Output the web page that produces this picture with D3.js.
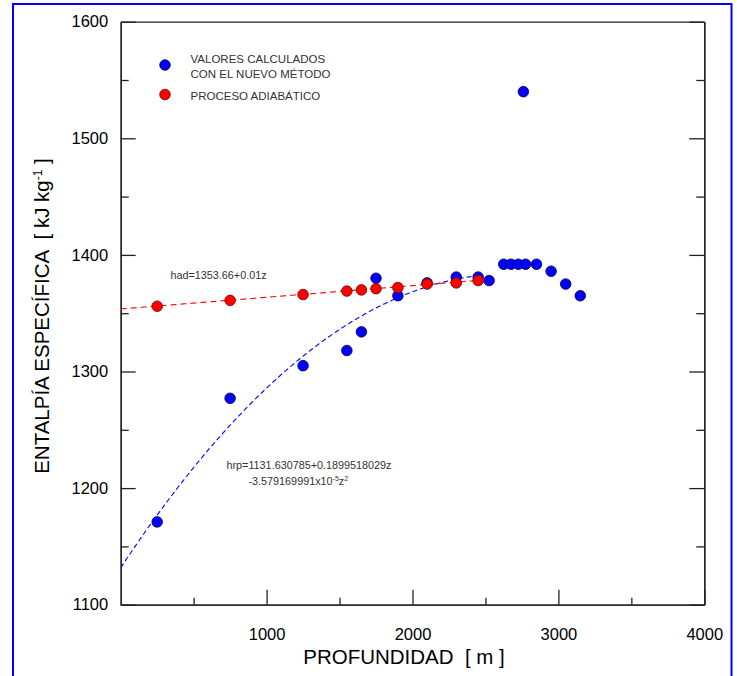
<!DOCTYPE html>
<html>
<head>
<meta charset="utf-8">
<script src="https://cdn.jsdelivr.net/npm/d3@7"></script>
<style>
  body { margin: 0; background: #fff; }
  svg { display: block; font-family: "Liberation Sans", Arial, sans-serif; }
</style>
</head>
<body>
<div id="chart"></div>
<script>
// valores calculados con el nuevo método (azul)
const blueDepth = [250, 750, 1250, 1550, 1650, 1750, 1900, 2100, 2300, 2450, 2525, 2760,
                   2625, 2675, 2725, 2775, 2850, 2950, 3050, 3150];
const blueH     = [1171, 1277, 1305, 1318, 1334, 1380, 1365, 1376, 1381, 1381, 1378, 1540,
                   1392, 1392, 1392, 1392, 1392, 1386, 1375, 1365];

// proceso adiabático (rojo)
const redDepth = [250, 750, 1250, 1550, 1650, 1750, 1900, 2100, 2300, 2450];
const redH     = [1356, 1361, 1366, 1369, 1370, 1371, 1372, 1375, 1376, 1378];

// coeficientes de los ajustes mostrados en la gráfica
const hadCoef = [1353.66, 0.01];
const hrpCoef = [1131.630785, 0.1899518029, -3.579169991e-5];
const fitEnd = 2450;

const xTicks = [1000, 2000, 3000, 4000];
const yTicks = [1100, 1200, 1300, 1400, 1500, 1600];

const width = 737, height = 676;
const margin = { left: 120.7, right: 737 - 704.3, top: 21.7, bottom: 676 - 604.7 };

const svg = d3.select("#chart")
  .append("svg")
  .attr("width", width)
  .attr("height", height);

// marco azul
svg.append("path")
  .attr("d", `M13,${height + 5} L13,4 L731.5,4 L731.5,${height + 5}`)
  .attr("fill", "none")
  .attr("stroke", "#0000ff")
  .attr("stroke-width", 2);

const x = d3.scaleLinear().domain([0, 4000]).range([margin.left, width - margin.right]);
const y = d3.scaleLinear().domain([1100, 1600]).range([height - margin.bottom, margin.top]);

const axisColor = "#222";
const fmt = d3.format("d");

// ejes: marcas hacia adentro
const gx = svg.append("g").attr("transform", `translate(0,${y(1100)})`)
  .call(d3.axisBottom(x).tickValues(xTicks).tickFormat(fmt).tickSizeInner(-15).tickSizeOuter(0).tickPadding(24));
const gxMinor = svg.append("g").attr("transform", `translate(0,${y(1100)})`)
  .call(d3.axisBottom(x).tickValues([500, 1500, 2500, 3500]).tickSizeInner(-7).tickSizeOuter(0).tickFormat(""));

const gy = svg.append("g").attr("transform", `translate(${x(0)},0)`)
  .call(d3.axisLeft(y).tickValues(yTicks).tickFormat(fmt).tickSizeInner(-15).tickSizeOuter(0).tickPadding(12.5));
const gyMinor = svg.append("g").attr("transform", `translate(${x(0)},0)`)
  .call(d3.axisLeft(y).tickValues([1150, 1250, 1350, 1450, 1550]).tickSizeInner(-8).tickSizeOuter(0).tickFormat(""));

const gr = svg.append("g").attr("transform", `translate(${x(4000)},0)`)
  .call(d3.axisRight(y).tickValues(yTicks).tickSizeInner(-15).tickSizeOuter(0).tickFormat(""));
const grMinor = svg.append("g").attr("transform", `translate(${x(4000)},0)`)
  .call(d3.axisRight(y).tickValues([1150, 1250, 1350, 1450, 1550]).tickSizeInner(-8).tickSizeOuter(0).tickFormat(""));

const gt = svg.append("g").attr("transform", `translate(0,${y(1600)})`)
  .call(d3.axisTop(x).tickValues([]).tickSizeOuter(0));

[gx, gxMinor, gy, gyMinor, gr, grMinor, gt].forEach(g => {
  g.selectAll("path, line").attr("stroke", axisColor).attr("stroke-width", 1.3);
  g.selectAll("text")
    .attr("fill", "#000")
    .style("font-size", "16.5px")
    .style("font-family", "'Liberation Sans', Arial, sans-serif");
});

// títulos de ejes
svg.append("text")
  .attr("x", 404)
  .attr("y", 664)
  .attr("text-anchor", "middle")
  .style("font-size", "20.5px")
  .attr("fill", "#000")
  .attr("xml:space", "preserve")
  .text("PROFUNDIDAD  [ m ]");

const yTitle = svg.append("text")
  .attr("transform", "translate(48.5,316) rotate(-90)")
  .attr("text-anchor", "middle")
  .style("font-size", "20.5px")
  .attr("fill", "#000")
  .attr("xml:space", "preserve");
yTitle.append("tspan").text("ENTALPÍA ESPECÍFICA  [ kJ kg");
yTitle.append("tspan").attr("dy", -7).style("font-size", "12px").text("-1");
yTitle.append("tspan").attr("dy", 7).text(" ]");

// curvas de ajuste
svg.append("clipPath").attr("id", "plot-clip")
  .append("rect")
  .attr("x", x(0)).attr("y", y(1600))
  .attr("width", x(4000) - x(0)).attr("height", y(1100) - y(1600));

const zs = d3.range(0, fitEnd + 1, 10);

const line = d3.line().x(d => x(d[0])).y(d => y(d[1]));

svg.append("path")
  .datum(zs.map(z => [z, hrpCoef[0] + hrpCoef[1] * z + hrpCoef[2] * z * z]))
  .attr("clip-path", "url(#plot-clip)")
  .attr("d", line)
  .attr("fill", "none")
  .attr("stroke", "#0000ff")
  .attr("stroke-width", 1.1)
  .attr("stroke-dasharray", "5,3");

svg.append("path")
  .datum(zs.map(z => [z, hadCoef[0] + hadCoef[1] * z]))
  .attr("clip-path", "url(#plot-clip)")
  .attr("d", line)
  .attr("fill", "none")
  .attr("stroke", "#ff0000")
  .attr("stroke-width", 1.1)
  .attr("stroke-dasharray", "6,4");

// puntos
svg.append("g")
  .selectAll("circle")
  .data(blueDepth.map((d, i) => [d, blueH[i]]))
  .join("circle")
  .attr("cx", d => x(d[0]))
  .attr("cy", d => y(d[1]))
  .attr("r", 5.3)
  .attr("fill", "#0000ff")
  .attr("stroke", "#00004d")
  .attr("stroke-width", 0.8);

svg.append("g")
  .selectAll("circle")
  .data(redDepth.map((d, i) => [d, redH[i]]))
  .join("circle")
  .attr("cx", d => x(d[0]))
  .attr("cy", d => y(d[1]))
  .attr("r", 5.3)
  .attr("fill", "#ff0000")
  .attr("stroke", "#6b0000")
  .attr("stroke-width", 0.8);

// leyenda
const legend = svg.append("g").style("font-size", "11.5px").attr("fill", "#333");
legend.append("circle").attr("cx", 165).attr("cy", 65).attr("r", 5.3)
  .attr("fill", "#0000ff").attr("stroke", "#00004d").attr("stroke-width", 0.8);
legend.append("circle").attr("cx", 165).attr("cy", 94.5).attr("r", 5.3)
  .attr("fill", "#ff0000").attr("stroke", "#6b0000").attr("stroke-width", 0.8);
legend.append("text").attr("x", 190.5).attr("y", 62.5).text("VALORES CALCULADOS");
legend.append("text").attr("x", 190.5).attr("y", 78).text("CON EL NUEVO MÉTODO");
legend.append("text").attr("x", 190.5).attr("y", 100).text("PROCESO ADIABÁTICO");

// ecuaciones
const eq = svg.append("g").style("font-size", "10.8px").attr("fill", "#333");
eq.append("text").attr("x", 170.5).attr("y", 279).text("had=1353.66+0.01z");
eq.append("text").attr("x", 226.5).attr("y", 468.5).text("hrp=1131.630785+0.1899518029z");
const eq2 = eq.append("text").attr("x", 248.5).attr("y", 484.5);
eq2.append("tspan").text("-3.579169991x10");
eq2.append("tspan").attr("dy", -4).style("font-size", "7px").text("-5");
eq2.append("tspan").attr("dy", 4).text("z");
eq2.append("tspan").attr("dy", -4).style("font-size", "7px").text("2");
</script>
</body>
</html>
